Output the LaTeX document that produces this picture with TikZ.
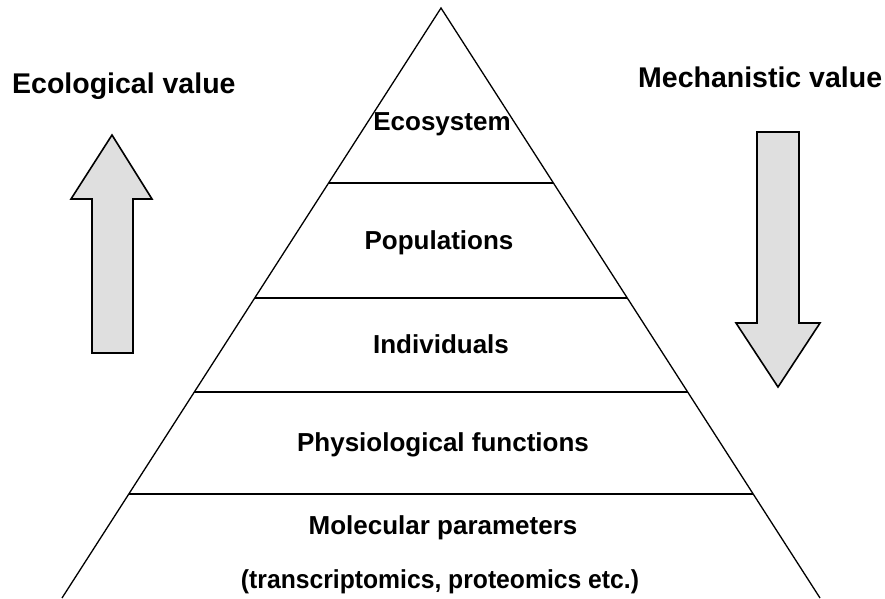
\documentclass[tikz,border=0pt]{standalone}
\usepackage{fontspec}
\setmainfont{Liberation Sans}
\usetikzlibrary{calc}
\begin{document}
\begin{tikzpicture}[x=1pt,y=-1pt,
 lbl/.style={font=\fontsize{26}{30}\selectfont\bfseries, anchor=base, inner sep=0pt},
 headlbl/.style={font=\fontsize{28.5}{32}\selectfont\bfseries, anchor=base west, inner sep=0pt},
 side/.style={line width=1.3pt},
 tier/.style={line width=1.8pt},
 bigarrow/.style={draw=black, line width=1.6pt, fill=gray!25, line join=miter}]
\useasboundingbox (0,0) rectangle (885,598);
% pyramid
\coordinate (apex) at (441,8);
\coordinate (bl) at (62,598);
\coordinate (br) at (820,598);
\draw[side] (bl) -- (apex) -- (br);
\foreach \t [count=\i] in {0.2966,0.4915,0.6508,0.8237}{
  \draw[tier] ($(apex)!\t!(bl)$) coordinate (l\i) -- ($(apex)!\t!(br)$) coordinate (r\i);
}
% arrows
\draw[bigarrow] (112,135) -- (152,199) -- (133,199) -- (133,353) -- (92,353) -- (92,199) -- (71,199) -- cycle;
\draw[bigarrow] (778,387) -- (820,323) -- (799,323) -- (799,132) -- (757,132) -- (757,323) -- (736,323) -- cycle;
% labels
\node[headlbl] (eco) at (12,93) {Ecological value};
\node[headlbl] (mech) at (638,87) {Mechanistic value};
\node[lbl] (ecosys) at (442,130) {Ecosystem};
\node[lbl] (pop) at (439,249) {Populations};
\node[lbl] (ind) at (441,353) {Individuals};
\node[lbl] (phys) at (443,451) {Physiological functions};
\node[lbl] (mol) at (443,534) {Molecular parameters};
\node[lbl] (trans) at (440,588) {\scalebox{0.95}[1]{(transcriptomics, proteomics etc.)}};
\end{tikzpicture}
\end{document}
